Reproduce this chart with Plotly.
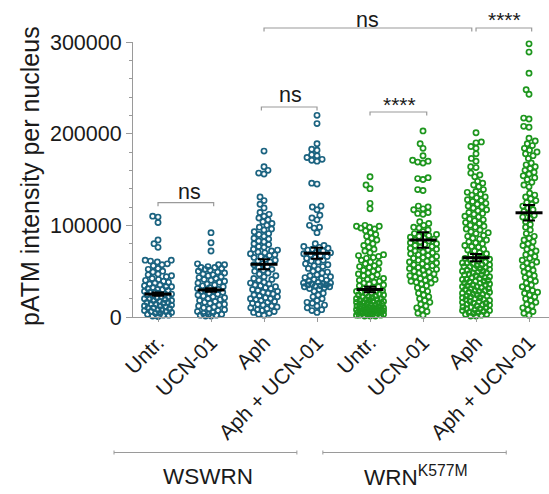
import numpy as np
import plotly.graph_objects as go

# ---------------- data (values in thousands of intensity units) ----------------
categories = ["Untr.", "UCN-01", "Aph", "Aph + UCN-01",
              "Untr.", "UCN-01", "Aph", "Aph + UCN-01"]
group_labels = ["WSWRN", "WRN<sup>K577M</sup>"]
y_ticks = [0, 100000, 200000, 300000]

wswrn_untr_k = [110, 109, 103, 84, 80, 76, 62, 61, 60, 62, 58, 57, 56,
                53, 52, 50, 49, 47, 46, 45, 44, 42, 41, 40, 39, 38, 37, 36, 35, 34, 33, 33, 32,
                31, 30, 30, 29, 28, 27, 27, 26, 25, 25, 24, 23, 22, 22, 21, 20, 20, 19, 18, 18,
                17, 16, 16, 15, 14, 14, 13, 12, 12, 11, 10, 10, 9, 8, 8, 7, 6, 6, 5, 4, 4, 3,
                2, 2, 1, 0.5]
wswrn_ucn_k = [92, 81, 72, 58, 57, 57, 55, 54, 54, 53, 52, 51, 50, 49, 48, 47, 46, 45, 44,
               43, 42, 41, 40, 39, 38, 37, 36, 35, 34, 33, 32, 31, 30, 29, 28, 28, 27, 26, 25,
               24, 23, 22, 21, 20, 19, 18, 17, 16, 15, 14, 13, 12, 11, 10, 9, 8, 7, 6, 5, 4,
               3, 3, 2, 2, 1, 1]
wswrn_aph_k = [181, 164, 160, 157, 156, 131, 127, 123, 119, 114, 112, 110, 108, 106, 104,
               102, 100, 98, 96, 95, 93, 91, 90, 88, 86, 85, 83, 82, 80, 79, 77, 76, 74, 73,
               72, 71, 70, 69, 68, 67, 66, 65, 63, 62, 61, 60, 58, 57, 55, 54, 52, 51, 50, 48,
               47, 45, 44, 42, 41, 40, 38, 37, 36, 35, 34, 33, 32, 31, 30, 29, 28, 27, 26, 25,
               24, 23, 22, 21, 20, 20, 19, 18, 17, 16, 15, 14, 13, 12, 11, 10, 9, 8, 7, 6, 5,
               4, 3, 2]
wswrn_aph_ucn_k = [220, 211, 189, 183, 182, 177, 176, 174, 172, 171, 170, 146, 145, 121, 120,
                   117, 111, 108, 106, 100, 98, 97, 92, 80, 78, 77, 76, 75, 74, 73, 72, 71, 70,
                   69, 68, 67, 66, 65, 64, 62, 61, 60, 58, 57, 56, 55, 53, 52, 50, 49, 48, 46,
                   45, 44, 43, 42, 41, 40, 39, 38, 37, 37, 36, 36, 35, 35, 34, 34, 33, 33, 32,
                   31, 30, 28, 26, 24, 22, 20, 18, 16, 15, 13, 12, 10, 8, 7, 5]
wrn_untr_k = [153, 144, 140, 124, 118, 100, 99, 99, 98, 97, 96, 94, 92, 90, 88, 86, 84, 82,
              80, 78, 76, 74, 72, 70, 68, 67, 66, 65, 64, 62, 60, 59, 58, 56, 55, 54, 52, 51,
              50, 48, 47, 46, 45, 44, 42, 41, 40, 39, 38, 37, 36, 35, 34, 33, 32, 31, 30, 29,
              28, 28, 27, 26, 26, 25, 24, 24, 23, 22, 22, 21, 20, 20, 19, 19, 18, 18, 17, 17,
              16, 16, 15, 15, 14, 14, 13, 13, 12, 12, 11, 11, 10, 10, 10, 9, 9, 9, 8, 8, 8, 7,
              7, 7, 6, 6, 6, 5, 5, 5, 4, 4, 4, 3, 3, 3, 2, 2, 2, 1, 1, 1]
wrn_ucn_k = [203, 189, 184, 176, 171, 170, 169, 168, 152, 151, 150, 139, 138, 121, 120, 118,
             117, 114, 113, 112, 104, 102, 100, 98, 97, 95, 93, 91, 90, 89, 88, 87, 86, 85, 84,
             83, 82, 81, 80, 79, 78, 77, 76, 75, 74, 73, 72, 71, 70, 69, 68, 67, 66, 65, 64, 63,
             62, 61, 60, 59, 58, 57, 56, 55, 54, 53, 52, 51, 50, 49, 48, 47, 46, 45, 44, 43, 42,
             41, 40, 39, 38, 37, 36, 34, 32, 30, 28, 26, 24, 22, 20, 18, 16, 14, 12, 10, 8, 6,
             4, 2]
wrn_aph_k = [201, 191, 190, 186, 184, 178, 173, 170, 164, 163, 157, 155, 153, 148, 146, 144, 142,
             139, 137, 136, 134, 133, 131, 130, 128, 127, 126, 124, 123, 121, 120, 119, 117, 116,
             114, 113, 112, 110, 109, 107, 106, 105, 103, 102, 100, 99, 98, 96, 95, 93, 92, 91,
             89, 88, 86, 85, 84, 82, 81, 80, 78, 77, 76, 74, 73, 72, 70, 69, 68, 66, 65, 64, 63,
             62, 61,
             60, 59, 59, 58, 57, 57, 56, 55, 55, 54, 53, 53, 52, 51, 50, 50, 49, 48, 48, 47, 46,
             46, 45, 44, 43, 43, 42, 41, 41, 40, 39, 39, 38, 37, 37, 36, 35, 35, 34, 33, 33, 32,
             31, 31, 30, 29, 29, 28, 27, 27, 26, 25, 25, 24, 23, 23, 22, 21, 21, 20, 19, 19, 18,
             17, 17, 16, 15, 15, 14, 13, 13, 12, 11, 11, 10, 9, 9, 8, 7, 7, 6, 5, 5, 4, 3, 3, 2,
             1, 1]
wrn_aph_ucn_k = [298, 289, 266, 248, 243, 217, 216, 208, 207, 195, 192, 189, 187, 184, 182, 180,
                 178, 176, 173, 168, 166, 164, 162, 160, 158, 156, 154, 152, 150, 147, 144, 142,
                 135, 133, 131, 129, 127, 125, 123, 121, 119, 117, 115, 113, 111, 109, 107, 104,
                 101, 98, 95, 91, 88, 86, 84, 82, 80, 78, 76, 74, 72, 70, 68, 66, 64, 62, 60, 59,
                 57, 55, 53, 51, 49, 47, 45, 43, 41, 39, 37, 35, 33, 31, 29, 27, 26, 24, 22, 20,
                 18, 16, 14, 12, 10, 8, 6, 4, 2]

means_k = [25, 29.5, 57.5, 69.5, 30, 84, 64.7, 113.7]
sems_k = [1.8, 2.0, 5.5, 6.0, 3.0, 8.5, 4.0, 8.5]

series_k = [wswrn_untr_k, wswrn_ucn_k, wswrn_aph_k, wswrn_aph_ucn_k,
            wrn_untr_k, wrn_ucn_k, wrn_aph_k, wrn_aph_ucn_k]

# ---------------- layout geometry ----------------
W, H = 549, 494
ML, MR, MT, MB = 133, 0, 42, 177
PW, PH = W - ML - MR, H - MT - MB
X_RANGE = [-0.472, 7.377]
Y_RANGE = [0, 300000]
px_per_cat = PW / (X_RANGE[1] - X_RANGE[0])
px_per_val = PH / (Y_RANGE[1] - Y_RANGE[0])

TEAL = "#1b6380"
GREEN = "#1d961d"
AXIS_GREY = "#9a9a9a"
TXT = "#1a1a1a"
FONT = "Arial, Liberation Sans, sans-serif"


def swarm_offsets(vals_px, d=5.4, cap=13.5):
    """Beeswarm x offsets (pixels) for y positions in pixels."""
    placed = []
    out = []
    for y in vals_px:
        neigh = [(xj, yj) for (xj, yj) in placed if abs(y - yj) < d]
        cands = [0.0]
        for xj, yj in neigh:
            s = np.sqrt(max(d * d - (y - yj) ** 2, 0.0))
            cands += [xj + s, xj - s]

        def ok(c):
            return all((c - xj) ** 2 + (y - yj) ** 2 >= d * d - 1e-6 for xj, yj in neigh)

        valid = [c for c in cands if ok(c) and abs(c) <= cap]
        if valid:
            best = min(valid, key=lambda c: (round(abs(c), 3), c))
        else:
            grid = np.linspace(-cap, cap, 55)
            def score(c):
                if not neigh:
                    return 1e9
                return min((c - xj) ** 2 + (y - yj) ** 2 for xj, yj in neigh)
            best = max(grid, key=lambda c: (round(score(c), 2), -abs(c)))
        placed.append((best, y))
        out.append(best)
    return np.array(out)


fig = go.Figure()

for i, vals in enumerate(series_k):
    v = np.sort(np.array(vals, dtype=float) * 1000)
    offs = swarm_offsets(v * px_per_val)
    color = TEAL if i < 4 else GREEN
    fig.add_trace(go.Scatter(
        x=i + offs / px_per_cat, y=v, mode="markers",
        marker=dict(symbol="circle-open", size=5.2, color=color, line=dict(width=1.7, color=color)),
        cliponaxis=False, showlegend=False, hoverinfo="y"))

# mean lines
mx, my = [], []
half = 13.5 / px_per_cat
for i, m in enumerate(means_k):
    mx += [i - half, i + half, None]
    my += [m * 1000, m * 1000, None]
fig.add_trace(go.Scatter(x=mx, y=my, mode="lines", line=dict(color="black", width=3),
                         showlegend=False, hoverinfo="skip", cliponaxis=False))
# SEM bars
fig.add_trace(go.Scatter(
    x=list(range(8)), y=[m * 1000 for m in means_k], mode="markers",
    marker=dict(size=1, color="rgba(0,0,0,0)"),
    error_y=dict(type="data", array=[s * 1000 for s in sems_k], color="black", thickness=2, width=6),
    showlegend=False, hoverinfo="skip", cliponaxis=False))


def px_to_paper_y(py):
    return (MT + PH - py) / PH


def px_to_paper_x(px):
    return (px - ML) / PW


def cat_to_paper_x(c):
    return (c - X_RANGE[0]) / (X_RANGE[1] - X_RANGE[0])


shapes = []
annotations = []

# significance brackets: (x0, x1, bracket y px, label, label y px, label x cat)
brackets = [
    (0.0, 1.05, 202.7, "ns", 192, 0.6),
    (1.95, 3.0, 107, "ns", 95, 2.5),
    (4.0, 5.07, 112, "****", 104, 4.55),
    (2.0, 5.92, 28, "ns", 20, 3.96),
    (6.0, 7.05, 28, "****", 20, 6.53),
]
for x0, x1, by, lab, ly, lx in brackets:
    yb = px_to_paper_y(by)
    ye = px_to_paper_y(by + 3.5)
    shapes.append(dict(type="path", xref="x", yref="paper",
                       path=f"M {x0},{ye} L {x0},{yb} L {x1},{yb} L {x1},{ye}",
                       line=dict(color=AXIS_GREY, width=1.2)))
    annotations.append(dict(x=lx, y=px_to_paper_y(ly), xref="x", yref="paper", text=lab,
                            showarrow=False, yanchor="middle", xanchor="center",
                            font=dict(family=FONT, size=21.5 if lab == "ns" else 21, color=TXT)))

# group underlines and labels
for (c0, c1), lab, cx in [((-0.83, 2.62), group_labels[0], 0.94), ((3.11, 6.57), group_labels[1], 4.87)]:
    yl = px_to_paper_y(452.5)
    shapes.append(dict(type="line", xref="paper", yref="paper",
                       x0=cat_to_paper_x(c0), x1=cat_to_paper_x(c1), y0=yl, y1=yl,
                       line=dict(color=AXIS_GREY, width=1.2)))
    for c in (c0, c1):
        shapes.append(dict(type="line", xref="paper", yref="paper",
                           x0=cat_to_paper_x(c), x1=cat_to_paper_x(c),
                           y0=px_to_paper_y(450.5), y1=px_to_paper_y(454.5),
                           line=dict(color=AXIS_GREY, width=1)))
    annotations.append(dict(x=cat_to_paper_x(cx), y=px_to_paper_y(476), xref="paper", yref="paper",
                            text=lab, showarrow=False, xanchor="center", yanchor="middle",
                            font=dict(family=FONT, size=22.5, color=TXT)))

# y-axis title as annotation (placed like the reference)
annotations.append(dict(x=px_to_paper_x(30), y=px_to_paper_y(176), xref="paper", yref="paper",
                        text="pATM intensity per nucleus", textangle=-90, showarrow=False,
                        xanchor="center", yanchor="middle",
                        font=dict(family=FONT, size=25, color=TXT)))

fig.update_layout(
    width=W, height=H,
    margin=dict(l=ML, r=MR, t=MT, b=MB, pad=0),
    paper_bgcolor="white", plot_bgcolor="white",
    font=dict(family=FONT, color=TXT),
    shapes=shapes, annotations=annotations,
    xaxis=dict(range=X_RANGE, tickvals=list(range(8)), ticktext=categories, tickangle=-45,
               showline=True, linecolor=AXIS_GREY, linewidth=1, ticks="outside", ticklen=4,
               tickcolor=AXIS_GREY, showgrid=False, zeroline=False,
               tickfont=dict(family=FONT, size=21, color=TXT)),
    yaxis=dict(range=Y_RANGE, tickvals=y_ticks, tickformat="d", showline=True,
               linecolor=AXIS_GREY, linewidth=1, ticks="outside", ticklen=6, tickcolor=AXIS_GREY,
               minor=dict(dtick=20000, ticks="outside", ticklen=3, tickcolor=AXIS_GREY, showgrid=False),
               showgrid=False, zeroline=False,
               tickfont=dict(family=FONT, size=21.5, color=TXT)),
)

fig.write_html("out.html")
